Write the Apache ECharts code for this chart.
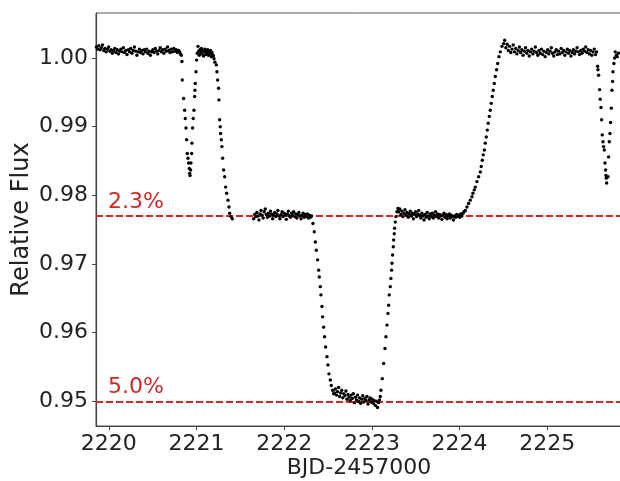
<!DOCTYPE html>
<html>
<head>
<meta charset="utf-8">
<script src="https://cdn.jsdelivr.net/npm/echarts@6/dist/echarts.min.js"></script>
<style>html,body{margin:0;padding:0;background:#fff}#c{width:620px;height:481px}</style>
</head>
<body>
<div id="c"></div>
<script>
// ---- data: [BJD-2457000, relative flux] ----
const outOfEclipseStart = [
[2219.858,1.0016],[2219.872,1.0013],[2219.886,1.0018],[2219.900,1.0012],[2219.914,1.0015],[2219.928,1.0019],
[2219.942,1.0011],[2219.956,1.0014],[2219.970,1.0009],[2219.984,1.0013],[2219.998,1.0016],[2220.012,1.0010],
[2220.026,1.0012],[2220.040,1.0007],[2220.054,1.0011],[2220.068,1.0014],[2220.082,1.0008],[2220.096,1.0012],
[2220.110,1.0006],[2220.124,1.0010],[2220.138,1.0013],[2220.152,1.0009],[2220.166,1.0015],[2220.180,1.0008],
[2220.194,1.0011],[2220.208,1.0005],[2220.222,1.0012],[2220.236,1.0009],[2220.250,1.0014],[2220.264,1.0007],
[2220.278,1.0011],[2220.292,1.0016],[2220.306,1.0010],[2220.320,1.0004],[2220.334,1.0009],[2220.348,1.0013],
[2220.362,1.0008],[2220.376,1.0011],[2220.390,1.0006],[2220.404,1.0012],[2220.418,1.0009],[2220.432,1.0013],
[2220.446,1.0007],[2220.460,1.0010],[2220.474,1.0004],[2220.488,1.0009],[2220.502,1.0012],[2220.516,1.0008],
[2220.530,1.0014],[2220.544,1.0010],[2220.558,1.0006],[2220.572,1.0011],[2220.586,1.0015],[2220.600,1.0009],
[2220.614,1.0012],[2220.628,1.0007],[2220.642,1.0013],[2220.656,1.0010],[2220.670,1.0016],[2220.684,1.0011],
[2220.698,1.0008],[2220.712,1.0013],[2220.726,1.0009],[2220.740,1.0014],[2220.754,1.0010],[2220.768,1.0012],
[2220.782,1.0008],[2220.796,1.0011],[2220.808,1.0009],[2220.818,1.0006]
];
const firstDip = [
[2220.827,1.0004],[2220.834,0.9995],[2220.838,0.9968],[2220.853,0.9941],[2220.865,0.9924],[2220.872,0.9912],
[2220.880,0.9898],[2220.887,0.9881],[2220.895,0.9861],[2220.903,0.9854],[2220.910,0.9847],[2220.918,0.9839],
[2220.922,0.9832],[2220.926,0.9829],[2220.933,0.9837],[2220.937,0.9847],[2220.945,0.9861],[2220.948,0.9876],
[2220.956,0.9898],[2220.963,0.9912],[2220.971,0.9924],[2220.979,0.9944],[2220.982,0.9953],[2220.986,0.9963],
[2220.994,0.9980],[2221.001,0.9997]
];
const betweenDips = [
[2221.009,1.0007],[2221.017,1.0017],[2221.024,1.0010],[2221.032,1.0004],[2221.040,1.0012],[2221.048,1.0008],
[2221.056,1.0014],[2221.064,1.0006],[2221.072,1.0011],[2221.080,1.0003],[2221.088,1.0009],[2221.096,1.0013],
[2221.104,1.0005],[2221.112,1.0010],[2221.120,1.0007],[2221.128,1.0012],[2221.136,1.0004],[2221.144,1.0009],
[2221.152,1.0006],[2221.160,1.0011],[2221.168,1.0002],[2221.176,1.0008],[2221.184,1.0005],[2221.192,1.0003],
[2221.200,0.9999],[2221.210,0.9994]
];
const secondaryIngress = [
[2221.226,0.9990],[2221.233,0.9980],[2221.241,0.9968],[2221.252,0.9956],[2221.256,0.9939],[2221.264,0.9910],
[2221.271,0.9900],[2221.275,0.9890],[2221.283,0.9881],[2221.290,0.9871],[2221.298,0.9854],[2221.309,0.9837],
[2221.321,0.9827],[2221.332,0.9812],[2221.344,0.9803],[2221.359,0.9793],[2221.370,0.9783],[2221.378,0.9774],
[2221.393,0.9769],[2221.408,0.9766]
];
const plateauBefore = [
[2221.652,0.9766],[2221.664,0.9772],[2221.676,0.9769],[2221.688,0.9775],[2221.700,0.9770],[2221.712,0.9764],
[2221.724,0.9773],[2221.736,0.9778],[2221.748,0.9771],[2221.760,0.9767],[2221.772,0.9776],[2221.784,0.9780],
[2221.796,0.9772],[2221.808,0.9768],[2221.820,0.9774],[2221.832,0.9770],[2221.844,0.9777],[2221.856,0.9773],
[2221.868,0.9766],[2221.880,0.9771],[2221.892,0.9775],[2221.904,0.9769],[2221.916,0.9773],[2221.928,0.9778],
[2221.940,0.9770],[2221.952,0.9766],[2221.964,0.9772],[2221.976,0.9776],[2221.988,0.9769],[2222.000,0.9774],
[2222.012,0.9771],[2222.024,0.9765],[2222.036,0.9773],[2222.048,0.9777],[2222.060,0.9770],[2222.072,0.9768],
[2222.084,0.9774],[2222.096,0.9771],[2222.108,0.9776],[2222.120,0.9769],[2222.132,0.9773],[2222.144,0.9767],
[2222.156,0.9772],[2222.168,0.9775],[2222.180,0.9770],[2222.192,0.9766],[2222.204,0.9771],[2222.216,0.9774],
[2222.228,0.9768],[2222.240,0.9772],[2222.252,0.9769],[2222.264,0.9773],[2222.276,0.9767],[2222.288,0.9771],
[2222.300,0.9768],[2222.312,0.9770]
];
const primaryIngress = [
[2222.328,0.9759],[2222.343,0.9747],[2222.355,0.9732],[2222.366,0.9720],[2222.381,0.9706],[2222.393,0.9691],
[2222.400,0.9681],[2222.412,0.9667],[2222.419,0.9655],[2222.431,0.9638],[2222.438,0.9623],[2222.450,0.9608],
[2222.461,0.9594],[2222.472,0.9579],[2222.488,0.9565],[2222.499,0.9553],[2222.510,0.9540],[2222.526,0.9531],
[2222.537,0.9523],[2222.552,0.9516],[2222.564,0.9511]
];
const primaryBottom = [
[2222.572,0.9512],[2222.584,0.9518],[2222.596,0.9509],[2222.608,0.9514],[2222.620,0.9520],[2222.632,0.9507],
[2222.644,0.9512],[2222.656,0.9516],[2222.668,0.9505],[2222.680,0.9511],[2222.692,0.9508],[2222.704,0.9515],
[2222.716,0.9503],[2222.728,0.9510],[2222.740,0.9506],[2222.752,0.9501],[2222.764,0.9509],[2222.776,0.9504],
[2222.788,0.9511],[2222.800,0.9498],[2222.812,0.9506],[2222.824,0.9502],[2222.836,0.9509],[2222.848,0.9500],
[2222.860,0.9505],[2222.872,0.9497],[2222.884,0.9503],[2222.896,0.9508],[2222.908,0.9499],[2222.920,0.9504],
[2222.932,0.9501],[2222.944,0.9507],[2222.956,0.9496],[2222.968,0.9502],[2222.980,0.9505],[2222.992,0.9499],
[2223.004,0.9503],[2223.016,0.9497],[2223.028,0.9501],[2223.040,0.9494],[2223.052,0.9500],[2223.064,0.9491],
[2223.076,0.9498],[2223.088,0.9502],[2223.096,0.9507]
];
const primaryEgress = [
[2223.103,0.9516],[2223.119,0.9533],[2223.134,0.9555],[2223.149,0.9577],[2223.160,0.9594],[2223.172,0.9611],
[2223.183,0.9628],[2223.191,0.9640],[2223.198,0.9655],[2223.210,0.9667],[2223.217,0.9679],[2223.225,0.9691],
[2223.229,0.9701],[2223.236,0.9713],[2223.244,0.9725],[2223.248,0.9735],[2223.255,0.9744],[2223.259,0.9752],
[2223.267,0.9761],[2223.274,0.9769],[2223.286,0.9776],[2223.297,0.9781]
];
const plateauAfter = [
[2223.306,0.9776],[2223.318,0.9780],[2223.330,0.9772],[2223.342,0.9777],[2223.354,0.9769],[2223.366,0.9774],
[2223.378,0.9779],[2223.390,0.9771],[2223.402,0.9775],[2223.414,0.9768],[2223.426,0.9773],[2223.438,0.9777],
[2223.450,0.9770],[2223.462,0.9774],[2223.474,0.9766],[2223.486,0.9772],[2223.498,0.9776],[2223.510,0.9769],
[2223.522,0.9773],[2223.534,0.9778],[2223.546,0.9771],[2223.558,0.9767],[2223.570,0.9774],[2223.582,0.9770],
[2223.594,0.9764],[2223.606,0.9772],[2223.618,0.9768],[2223.630,0.9775],[2223.642,0.9770],[2223.654,0.9766],
[2223.666,0.9773],[2223.678,0.9769],[2223.690,0.9774],[2223.702,0.9767],[2223.714,0.9771],[2223.726,0.9776],
[2223.738,0.9769],[2223.750,0.9773],[2223.762,0.9767],[2223.774,0.9772],[2223.786,0.9770],[2223.798,0.9765],
[2223.810,0.9771],[2223.822,0.9774],[2223.834,0.9768],[2223.846,0.9772],[2223.858,0.9766],[2223.870,0.9770],
[2223.882,0.9773],[2223.894,0.9767],[2223.906,0.9771],[2223.918,0.9769],[2223.930,0.9764],[2223.942,0.9770],
[2223.954,0.9768],[2223.966,0.9772],[2223.978,0.9769],[2223.990,0.9771],[2224.002,0.9768],[2224.014,0.9773],
[2224.026,0.9770],[2224.038,0.9774],[2224.050,0.9776]
];
const secondaryEgress = [
[2224.065,0.9778],[2224.084,0.9783],[2224.103,0.9788],[2224.122,0.9793],[2224.141,0.9798],[2224.152,0.9803],
[2224.168,0.9808],[2224.179,0.9812],[2224.198,0.9820],[2224.217,0.9827],[2224.236,0.9834],[2224.247,0.9842],
[2224.259,0.9851],[2224.270,0.9859],[2224.282,0.9866],[2224.293,0.9876],[2224.304,0.9885],[2224.316,0.9895],
[2224.327,0.9905],[2224.339,0.9915],[2224.350,0.9924],[2224.361,0.9934],[2224.373,0.9944],[2224.384,0.9953],
[2224.396,0.9963],[2224.407,0.9973],[2224.422,0.9983],[2224.434,0.9992],[2224.449,1.0002],[2224.464,1.0009],
[2224.483,1.0017],[2224.502,1.0021]
];
const outOfEclipseEnd = [
[2224.514,1.0026],[2224.528,1.0015],[2224.542,1.0020],[2224.556,1.0011],[2224.570,1.0017],[2224.584,1.0008],
[2224.598,1.0013],[2224.612,1.0019],[2224.626,1.0009],[2224.640,1.0014],[2224.654,1.0006],[2224.668,1.0011],
[2224.682,1.0016],[2224.696,1.0008],[2224.710,1.0012],[2224.724,1.0004],[2224.738,1.0010],[2224.752,1.0015],
[2224.766,1.0007],[2224.780,1.0011],[2224.794,1.0003],[2224.808,1.0009],[2224.822,1.0013],[2224.836,1.0006],
[2224.850,1.0010],[2224.864,1.0016],[2224.878,1.0008],[2224.892,1.0004],[2224.906,1.0011],[2224.920,1.0007],
[2224.934,1.0013],[2224.948,1.0005],[2224.962,1.0010],[2224.976,1.0002],[2224.990,1.0008],[2225.004,1.0012],
[2225.018,1.0006],[2225.032,1.0010],[2225.046,1.0015],[2225.060,1.0007],[2225.074,1.0003],[2225.088,1.0009],
[2225.102,1.0012],[2225.116,1.0005],[2225.130,1.0010],[2225.144,1.0006],[2225.158,1.0014],[2225.172,1.0008],
[2225.186,1.0011],[2225.200,1.0004],[2225.214,1.0009],[2225.228,1.0013],[2225.242,1.0007],[2225.256,1.0011],
[2225.270,1.0003],[2225.284,1.0008],[2225.298,1.0012],[2225.312,1.0006],[2225.326,1.0010],[2225.340,1.0015],
[2225.354,1.0009],[2225.368,1.0005],[2225.382,1.0011],[2225.396,1.0007],[2225.410,1.0013],[2225.424,1.0010],
[2225.438,1.0016],[2225.452,1.0008],[2225.466,1.0012],[2225.480,1.0006],[2225.494,1.0011],[2225.508,1.0004],
[2225.522,1.0009],[2225.536,1.0013],[2225.550,1.0005],[2225.562,1.0009]
];
const lastDip = [
[2225.574,0.9988],[2225.578,0.9983],[2225.585,0.9975],[2225.597,0.9954],[2225.604,0.9940],[2225.612,0.9928],
[2225.619,0.9910],[2225.627,0.9888],[2225.635,0.9878],[2225.642,0.9871],[2225.650,0.9866],[2225.658,0.9847],
[2225.665,0.9837],[2225.669,0.9829],[2225.673,0.9825],[2225.677,0.9818],[2225.692,0.9827],[2225.699,0.9856],
[2225.707,0.9878],[2225.715,0.9890],[2225.722,0.9906],[2225.730,0.9927],[2225.737,0.9953],[2225.745,0.9966],
[2225.749,0.9980],[2225.760,0.9992],[2225.768,1.0000],[2225.775,1.0009],[2225.787,1.0004],[2225.798,1.0002],
[2225.810,1.0007]
];
const depthLevels = [0.977, 0.950];
const depthLabels = ['2.3%', '5.0%'];
const xTicks = [2220, 2221, 2222, 2223, 2224, 2225];
const yTicks = [0.95, 0.96, 0.97, 0.98, 0.99, 1.00];

const allPoints = [].concat(outOfEclipseStart, firstDip, betweenDips, secondaryIngress, plateauBefore,
  primaryIngress, primaryBottom, primaryEgress, plateauAfter, secondaryEgress, outOfEclipseEnd, lastDip);

const FONT = 'DejaVu Sans';
const chart = echarts.init(document.getElementById('c'), null, {renderer: 'canvas'});
chart.setOption({
  animation: false,
  backgroundColor: '#fff',
  grid: {left: 96, right: -2, top: 13, bottom: 55, show: true, borderColor: '#555', borderWidth: 1,
    containLabel: false, outerBoundsMode: 'none'},
  xAxis: {
    type: 'value', min: 2219.854, max: 2225.852,
    name: 'BJD-2457000', nameLocation: 'middle', nameGap: 31, nameMoveOverlap: false,
    nameTextStyle: {fontFamily: FONT, fontSize: 22, color: '#222'},
    axisLine: {show: true, lineStyle: {color: '#444', width: 1.2}},
    axisTick: {show: true, inside: false, length: 4, lineStyle: {color: '#444'}, customValues: xTicks},
    axisLabel: {fontFamily: FONT, fontSize: 22, color: '#222', margin: 7, customValues: xTicks,
      formatter: v => String(Math.round(v))},
    splitLine: {show: false}
  },
  yAxis: {
    type: 'value', min: 0.94640, max: 1.00656,
    name: 'Relative Flux', nameLocation: 'middle', nameGap: 62, nameRotate: 90, nameMoveOverlap: false,
    nameTextStyle: {fontFamily: FONT, fontSize: 24, color: '#222'},
    axisLine: {show: true, lineStyle: {color: '#444', width: 1.2}},
    axisTick: {show: true, inside: false, length: 4, lineStyle: {color: '#444'}, customValues: yTicks},
    axisLabel: {fontFamily: FONT, fontSize: 22, color: '#222', margin: 8, customValues: yTicks,
      formatter: v => v.toFixed(2)},
    splitLine: {show: false}
  },
  series: [{
    type: 'scatter',
    data: allPoints,
    symbol: 'circle',
    symbolSize: 3.4,
    itemStyle: {color: '#000', opacity: 1},
    silent: true,
    z: 3,
    markLine: {
      silent: true,
      symbol: 'none',
      precision: 4,
      z: 2,
      lineStyle: {color: '#d62728', type: [7, 3], width: 2},
      label: {
        show: true, position: 'insideStartTop', distance: [12, 3],
        color: '#d62728', fontFamily: FONT, fontSize: 22,
        formatter: p => p.name
      },
      data: depthLevels.map((v, i) => ({yAxis: v, name: depthLabels[i]}))
    }
  }]
});
</script>
</body>
</html>
